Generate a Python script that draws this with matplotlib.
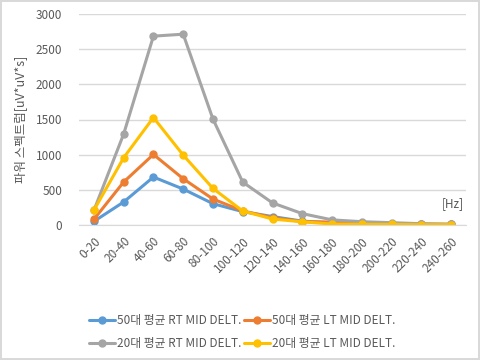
import matplotlib
matplotlib.use('Agg')
import matplotlib.pyplot as plt

plt.rcParams['font.family'] = ['Noto Sans CJK KR', 'DejaVu Sans']

bands = ['0-20', '20-40', '40-60', '60-80', '80-100', '100-120', '120-140',
         '140-160', '160-180', '180-200', '200-220', '220-240', '240-260']

rt50 = [51, 327, 682, 511, 303, 190, 120, 55, 30, 20, 15, 10, 8]
lt50 = [80, 611, 1003, 658, 369, 200, 105, 48, 42, 25, 18, 12, 10]
rt20 = [207, 1293, 2685, 2713, 1506, 610, 314, 162, 73, 47, 33, 18, 10]
lt20 = [210, 956, 1528, 994, 520, 199, 85, 45, 14, 10, 8, 5, 5]

series = [
    ('50대 평균 RT MID DELT.', rt50, '#5B9BD5'),
    ('50대 평균 LT MID DELT.', lt50, '#ED7D31'),
    ('20대 평균 RT MID DELT.', rt20, '#A5A5A5'),
    ('20대 평균 LT MID DELT.', lt20, '#FFC000'),
]

txt = '#595959'
grid = '#D9D9D9'

fig = plt.figure(figsize=(4.8, 3.6), dpi=100)
fig.patch.set_edgecolor(grid)
fig.patch.set_linewidth(1.5)
ax = fig.add_axes([79 / 480, 1 - 225 / 360, 387 / 480, 211 / 360])

x = list(range(len(bands)))
lines = []
for name, vals, col in series:
    ln, = ax.plot(x, vals, color=col, linewidth=2.2, marker='o', markersize=5,
                  label=name, solid_capstyle='round')
    lines.append(ln)

ax.set_xlim(-0.5, len(bands) - 0.5)
ax.set_ylim(0, 3000)
ax.set_yticks(range(0, 3001, 500))
ax.set_xticks(x)
ax.set_xticklabels(bands, rotation=45, ha='right', rotation_mode='anchor')
ax.tick_params(axis='both', length=0, labelsize=8.5, labelcolor=txt)
ax.tick_params(axis='y', pad=12)
ax.tick_params(axis='x', pad=7)
ax.grid(axis='y', color=grid, linewidth=1)
ax.set_axisbelow(True)
for s in ['top', 'right', 'left']:
    ax.spines[s].set_visible(False)
ax.spines['bottom'].set_color(grid)

ax.set_ylabel('파워 스펙트럼[uV*uV*s]', fontsize=9, color=txt)
ax.yaxis.set_label_coords(-52 / 387, 0.5)

fig.text(453 / 480, 1 - 204 / 360, '[Hz]', fontsize=8.5, color=txt,
         ha='center', va='center')

# legend fills column-wise, so order handles to get Excel's row layout
order = [0, 2, 1, 3]
fig.legend([lines[i] for i in order], [series[i][0] for i in order],
           loc='center', bbox_to_anchor=(242 / 480, 1 - 332 / 360), ncol=2,
           frameon=False, fontsize=8.5, labelcolor=txt, handlelength=2.2,
           handletextpad=0.2, columnspacing=0.2, labelspacing=0.85,
           borderaxespad=0)

fig.savefig('out.png', dpi=100)
